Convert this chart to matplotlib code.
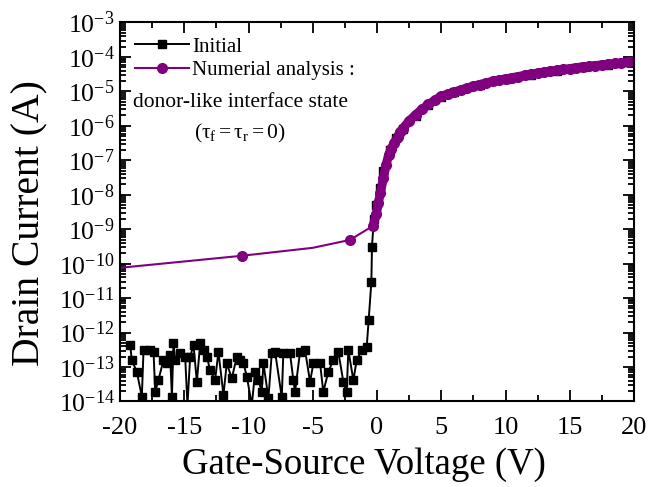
import matplotlib
matplotlib.use("Agg")
import matplotlib.pyplot as plt
from matplotlib.ticker import MultipleLocator, LogLocator, NullFormatter
import numpy as np

plt.rcParams['font.family'] = ['Liberation Serif', 'DejaVu Serif']
plt.rcParams['mathtext.fontset'] = 'custom'
plt.rcParams['mathtext.rm'] = 'Liberation Serif'
plt.rcParams['mathtext.it'] = 'Liberation Serif:italic'
plt.rcParams['axes.unicode_minus'] = False

# ---- Initial (measured), log10 of drain current
vg_init = [-19.21, -19.08, -18.69, -18.30, -18.17, -17.65, -17.39, -17.26, -17.01, -16.62,
           -16.35, -16.10, -15.96, -15.84, -15.71, -15.32, -14.93, -14.75, -14.54, -14.28,
           -14.02, -13.76, -13.50, -13.24, -12.99, -12.60, -12.34, -11.95, -11.69, -11.30,
           -10.91, -10.65, -10.39, -10.13, -9.74, -9.49, -9.23, -8.97, -8.84, -8.45,
           -8.19, -7.93, -7.41, -7.29, -6.77, -6.51, -6.38, -5.99, -5.60, -5.21,
           -4.95, -4.43, -4.18, -3.79, -3.40, -3.01, -2.62, -2.36, -2.23, -1.84,
           -1.58, -1.19, -0.80, -0.65, -0.44, -0.39, -0.25, -0.05, 0.2, 0.5,
           1.0, 1.5, 2.0, 3.0, 4.0, 5.0, 6.0, 8.0, 10.0, 12.0,
           14.0, 16.0, 18.0, 20.0]
log_id_init = [-12.36, -12.80, -13.14, -13.86, -12.51, -12.51, -12.56, -13.72, -13.38, -12.80,
               -12.89, -12.65, -13.86, -12.31, -12.80, -12.60, -12.70, -14.10, -12.70, -12.36,
               -13.43, -12.31, -12.51, -12.70, -13.09, -13.38, -12.56, -13.81, -12.89, -13.33,
               -12.70, -12.80, -12.89, -13.28, -14.10, -13.14, -13.38, -13.72, -12.89, -13.90,
               -12.60, -12.56, -13.88, -12.60, -12.60, -13.38, -13.72, -12.56, -12.51, -13.43,
               -12.89, -12.89, -13.72, -13.14, -12.80, -12.56, -13.43, -13.72, -12.51, -13.38,
               -12.80, -12.51, -12.41, -11.64, -10.54, -9.51, -8.70, -8.30, -7.80, -7.30,
               -6.70, -6.35, -6.10, -5.70, -5.40, -5.16, -5.03, -4.81, -4.65, -4.51,
               -4.40, -4.30, -4.22, -4.14]

# ---- Numerical analysis (donor-like interface state), log10 of drain current
vg_sim = [-20.0, -10.5, -5.0, -2.1, -0.3, -0.05, 0.1, 0.25, 0.5, 0.7,
          0.9, 1.1, 1.35, 1.6, 1.8, 2.0, 2.5, 3.0, 3.5, 4.0,
          4.5, 5.0, 5.5, 6.0, 6.5, 7.0, 7.5, 8.0, 8.5, 9.0,
          9.5, 10.0, 10.5, 11.0, 11.5, 12.0, 12.5, 13.0, 13.5, 14.0,
          14.5, 15.0, 15.5, 16.0, 16.5, 17.0, 17.5, 18.0, 18.5, 19.0,
          19.5, 20.0]
log_id_sim = [-10.12, -9.77, -9.54, -9.31, -8.90, -8.55, -8.25, -7.96, -7.52, -7.14,
              -6.85, -6.66, -6.49, -6.31, -6.17, -6.08, -5.86, -5.68, -5.52, -5.38,
              -5.26, -5.14, -5.08, -5.02, -4.96, -4.90, -4.85, -4.80, -4.75, -4.71,
              -4.67, -4.64, -4.60, -4.57, -4.53, -4.50, -4.47, -4.44, -4.41, -4.39,
              -4.36, -4.34, -4.31, -4.29, -4.27, -4.25, -4.23, -4.21, -4.19, -4.17,
              -4.15, -4.13]

id_init = 10.0 ** np.array(log_id_init)
id_sim = 10.0 ** np.array(log_id_sim)
purple = '#800080'

fig = plt.figure(figsize=(6.49, 4.87), dpi=100)
ax = fig.add_axes([0.1849, 0.1756, 0.7920, 0.7782])

ax.plot(vg_init, id_init, color='black', lw=1.4, marker='s', ms=6,
        label='Initial')
marks = [i for i in range(len(vg_sim)) if i not in (0, 2)]
ax.plot(vg_sim, id_sim, color=purple, lw=1.5, marker='o', ms=7,
        markevery=marks, label='Numerial analysis :')
# dense part of the simulation curve looks like a solid band
ax.plot(vg_sim[4:], id_sim[4:], color=purple, lw=6.5, solid_capstyle='round',
        label='_nolegend_')

ax.set_yscale('log')
ax.set_xlim(-20, 20)
ax.set_ylim(1e-14, 1e-3)
ax.xaxis.set_major_locator(MultipleLocator(5))
ax.xaxis.set_minor_locator(MultipleLocator(2.5))
ax.yaxis.set_major_locator(LogLocator(base=10, numticks=20))
ax.yaxis.set_minor_locator(LogLocator(base=10, subs=np.arange(2, 10), numticks=20))
ax.yaxis.set_minor_formatter(NullFormatter())

ax.tick_params(which='both', direction='in', top=True, right=True, width=1.3)
ax.tick_params(which='major', length=8, labelsize=19)
ax.tick_params(axis='y', which='major', labelsize=18.5, pad=4)
ax.tick_params(axis='x', which='major', pad=11)
ax.tick_params(which='minor', length=4)
for s in ax.spines.values():
    s.set_linewidth(1.5)

ax.set_xlabel('Gate-Source Voltage (V)', fontsize=26.5)
ax.set_ylabel('Drain Current (A)', fontsize=28.5)
ax.xaxis.set_label_coords(0.4747, -0.12)
ax.yaxis.set_label_coords(-0.140, 0.47)

ax.legend(loc='upper left', frameon=False, fontsize=15, handlelength=2.6,
          handletextpad=0.15, labelspacing=0.2, borderaxespad=0.3, borderpad=0.4)
ax.text(0.2335, 0.7876, 'donor-like interface state', transform=ax.transAxes,
        ha='center', va='center', fontsize=15.5)
ax.text(0.2335, 0.7084, r'($\mathregular{\tau_f = \tau_r = 0}$)', transform=ax.transAxes,
        ha='center', va='center', fontsize=15.5)

fig.savefig('out.png', dpi=100)
